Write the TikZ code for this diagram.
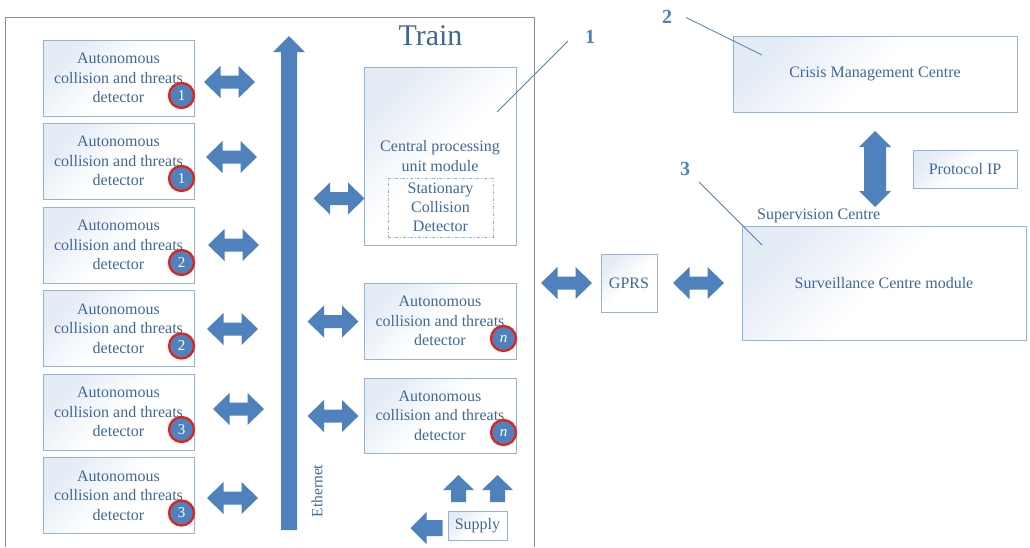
\documentclass[tikz,border=0pt]{standalone}
\usepackage{fontspec}
\setmainfont{Liberation Serif}
\usetikzlibrary{positioning}
\definecolor{boxline}{HTML}{95B3D7}
\definecolor{boxfill}{HTML}{E3EBF5}
\definecolor{txt}{HTML}{3F6899}
\definecolor{arrfill}{HTML}{4F81BD}
\definecolor{lbl}{HTML}{4F81BD}
\definecolor{ring}{HTML}{E2231A}
\definecolor{frame}{HTML}{8C8C8C}
\tikzset{
  box/.style={draw=boxline, line width=1pt, top color=boxfill, bottom color=white, middle color=white, shading angle=45,
    text=txt, align=center, inner sep=0pt, font=\fontsize{16}{19.5}\selectfont},
  plain/.style={text=txt, inner sep=0pt, font=\fontsize{16}{19.5}\selectfont},
  badge/.style={circle, fill=arrfill, draw=ring, line width=2.3pt, minimum size=25pt, inner sep=0pt,
    text=white, font=\fontsize{15}{15}\selectfont},
  numlbl/.style={text=lbl, inner sep=0pt, font=\fontsize{20}{20}\selectfont\bfseries},
  leader/.style={draw=lbl, line width=0.8pt},
  hdbl/.pic={\fill[arrfill] (-25.5,0) -- (-9,-16) -- (-9,-6.5) -- (9,-6.5) -- (9,-16) -- (25.5,0) -- (9,16) -- (9,6.5) -- (-9,6.5) -- (-9,16) -- cycle;},
  vdbl/.pic={\fill[arrfill] (0,-38) -- (16,-22) -- (11,-22) -- (11,22) -- (16,22) -- (0,38) -- (-16,22) -- (-11,22) -- (-11,-22) -- (-16,-22) -- cycle;},
  uparr/.pic={\fill[arrfill] (0,-13.5) -- (15.5,1.5) -- (7.5,1.5) -- (7.5,13.5) -- (-7.5,13.5) -- (-7.5,1.5) -- (-15.5,1.5) -- cycle;},
  leftarr/.pic={\fill[arrfill] (-16,0) -- (0,-16) -- (0,-8) -- (16,-8) -- (16,8) -- (0,8) -- (0,16) -- cycle;},
}
\begin{document}
\begin{tikzpicture}[x=1pt,y=-1pt]
\useasboundingbox (0,0) rectangle (1030,547);
\fill[white] (0,0) rectangle (1030,547);
% Train frame
\draw[frame, line width=0.9pt] (5,17) -- (534,17) -- (534,547);
\draw[frame, line width=0.9pt] (5,17) -- (5,547);
\node[text=txt, inner sep=0pt, font=\fontsize{30}{30}\selectfont] (train) at (430.5,36) {Train};

% left detectors
\foreach \i/\y/\n in {1/78/1, 2/161/1, 3/245/2, 4/328.5/2, 5/412/3, 6/495.5/3}{
  \node[box, minimum width=151pt, minimum height=76pt] (d\i) at (118.5,\y) {Autonomous\\collision and threats\\detector};
  \node[badge] (b\i) at ([xshift=-13pt,yshift=21pt]d\i.south east) {\n};
}
% arrows between detectors and ethernet
\pic at (229.5,82) {hdbl};
\pic at (231.5,157) {hdbl};
\pic at (233.5,245) {hdbl};
\pic at (232.5,329) {hdbl};
\pic at (238.5,409) {hdbl};
\pic at (232.5,498) {hdbl};

% Ethernet
\fill[arrfill] (289,36) -- (305,52) -- (297,52) -- (297,530) -- (281,530) -- (281,52) -- (273,52) -- cycle;
\node[plain, rotate=90, font=\fontsize{15.5}{15.5}\selectfont] (eth) at (317,491) {Ethernet};

% central processing unit
\node[box, minimum width=152pt, minimum height=178pt] (cpu) at (440,156) {};
\node[plain, align=center] (cput) at (440,156) {Central processing\\unit module};
\node[draw=boxline, dash dot, line width=0.9pt, minimum width=105pt, minimum height=59pt, inner sep=0pt,
  text=txt, align=center, font=\fontsize{16}{19}\selectfont] (scd) at (440.5,207.5) {Stationary\\Collision\\Detector};
\pic at (339,198.5) {hdbl};

% right detectors
\node[box, minimum width=152pt, minimum height=76pt] (n1) at (440,321) {Autonomous\\collision and threats\\detector};
\node[badge, font=\fontsize{15}{15}\selectfont\itshape] (bn1) at ([xshift=-13pt,yshift=21pt]n1.south east) {n};
\node[box, minimum width=152pt, minimum height=75pt] (n2) at (440,415.5) {Autonomous\\collision and threats\\detector};
\node[badge, font=\fontsize{15}{15}\selectfont\itshape] (bn2) at ([xshift=-13pt,yshift=21pt]n2.south east) {n};
\pic at (333,321.5) {hdbl};
\pic at (333,416) {hdbl};

% supply
\node[box, minimum width=59pt, minimum height=29pt] (sup) at (477.5,525.5) {Supply};
\pic at (458.5,488.5) {uparr};
\pic at (497.5,488.5) {uparr};
\pic at (426.5,528) {leftarr};

% GPRS
\node[box, minimum width=56pt, minimum height=58pt] (gprs) at (629,283) {GPRS};
\pic at (566.5,283) {hdbl};
\pic at (698.5,283) {hdbl};

% Crisis management
\node[box, minimum width=284pt, minimum height=76pt] (cmc) at (875,74) {Crisis Management Centre};
\pic at (875,169) {vdbl};
\node[box, minimum width=104pt, minimum height=38pt] (pip) at (965,169) {Protocol IP};

% Surveillance
\node[box, minimum width=284pt, minimum height=114pt] (scm) at (884,283) {Surveillance Centre module};
\node[plain, anchor=west] (sup2) at (757,216) {Supervision Centre};

% number labels and leaders
\node[numlbl] (l1) at (590,37) {1};
\node[numlbl] (l2) at (667,17) {2};
\node[numlbl] (l3) at (685,169) {3};
\coordinate (s1) at (568,41);
\coordinate (s2) at (686,17.5);
\coordinate (s3) at (699,182);
\coordinate (e1) at (497,112);
\coordinate (e2) at (762,55);
\coordinate (e3) at (762,245);
\draw[leader] (s1) -- (e1);
\draw[leader] (s2) -- (e2);
\draw[leader] (s3) -- (e3);
\end{tikzpicture}
\end{document}
